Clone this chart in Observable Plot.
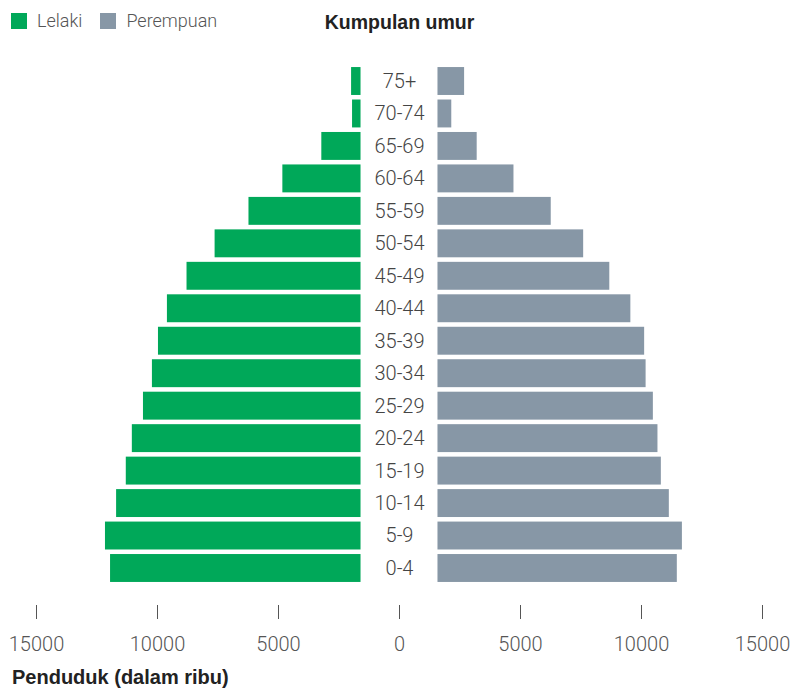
<!DOCTYPE html>
<html>
<head>
<meta charset="utf-8">
<script src="https://cdn.jsdelivr.net/npm/d3@7"></script>
<script src="https://cdn.jsdelivr.net/npm/@observablehq/plot@0.6"></script>
<style>
  html, body { margin: 0; padding: 0; background: #fff; }
  body { font-family: Roboto, "Liberation Sans", sans-serif; }
  #wrap { position: relative; width: 803px; height: 689px; overflow: hidden; }
  .legend { position: absolute; left: 11px; top: 10px; display: flex; align-items: center; font-size: 18px; font-weight: 300; color: #555; }
  .legend .sw { width: 16px; height: 16px; display: inline-block; margin-right: 10px; }
  .legend .item { display: flex; align-items: center; margin-right: 18px; }
  .agehead { position: absolute; left: 0; width: 799px; top: 11px; text-align: center; font-family: "Liberation Sans", Arial, sans-serif; font-weight: bold; font-size: 19.5px; color: #222; }
  #chart { position: absolute; left: 0; top: 44px; }
  .xtitle { position: absolute; left: 12px; top: 666px; line-height: 22px; font-family: "Liberation Sans", Arial, sans-serif; font-weight: bold; font-size: 20px; color: #222; }
</style>
</head>
<body>
<div id="wrap">
  <div class="legend" id="legend"></div>
  <div class="agehead">Kumpulan umur</div>
  <div id="chart"></div>
  <div class="xtitle">Penduduk (dalam ribu)</div>
</div>
<script>
// Age groups, bottom (youngest) to top (oldest)
const ages = ["0-4", "5-9", "10-14", "15-19", "20-24", "25-29", "30-34", "35-39",
              "40-44", "45-49", "50-54", "55-59", "60-64", "65-69", "70-74", "75+"];
// Population in thousands
const lelaki    = [11940, 12150, 11690, 11290, 11040, 10580, 10210, 9960,
                   9590, 8780, 7620, 6220, 4820, 3210, 1940, 1980];
const perempuan = [11480, 11690, 11150, 10820, 10680, 10490, 10190, 10130,
                   9560, 8690, 7610, 6270, 4730, 3210, 2160, 2690];
const seriesNames = ["Lelaki", "Perempuan"];
const xTicks = [-15000, -10000, -5000, 0, 5000, 10000, 15000];

const colors = { Lelaki: "#00a859", Perempuan: "#8797a6" };
const gap = 1590; // half-width of the central label band, in data units

const rows = ages.map((age, i) => ({ age, lelaki: lelaki[i], perempuan: perempuan[i] }));
const topDown = ages.slice().reverse();

// legend
const legend = document.getElementById("legend");
seriesNames.forEach(name => {
  const it = document.createElement("span");
  it.className = "item";
  it.innerHTML = `<span class="sw" style="background:${colors[name]}"></span><span>${name}</span>`;
  legend.appendChild(it);
});

const labelFont = `Roboto, "Liberation Sans", sans-serif`;

const chart = Plot.plot({
  width: 803,
  height: 620,
  marginLeft: 36,
  marginRight: 41,
  marginTop: 18.5,
  marginBottom: 59,
  style: { fontFamily: labelFont, background: "#fff", fontWeight: 300 },
  x: { domain: [-15000, 15000], axis: null },
  y: { domain: topDown, padding: 0.14, round: false, insetBottom: 18.5, axis: null },
  marks: [
    Plot.barX(rows, { y: "age", x1: () => -gap, x2: d => -d.lelaki, fill: colors.Lelaki }),
    Plot.barX(rows, { y: "age", x1: () => gap, x2: d => d.perempuan, fill: colors.Perempuan }),
    Plot.text(ages, { y: d => d, text: d => d, frameAnchor: "middle", fontSize: 20, fill: "#444" }),
    Plot.axisX({
      ticks: xTicks,
      tickFormat: d => String(Math.abs(d)),
      tickSize: 14,
      tickPadding: 17,
      fontSize: 20,
      color: "#555",
      label: null
    })
  ]
});
document.getElementById("chart").appendChild(chart);
</script>
</body>
</html>
